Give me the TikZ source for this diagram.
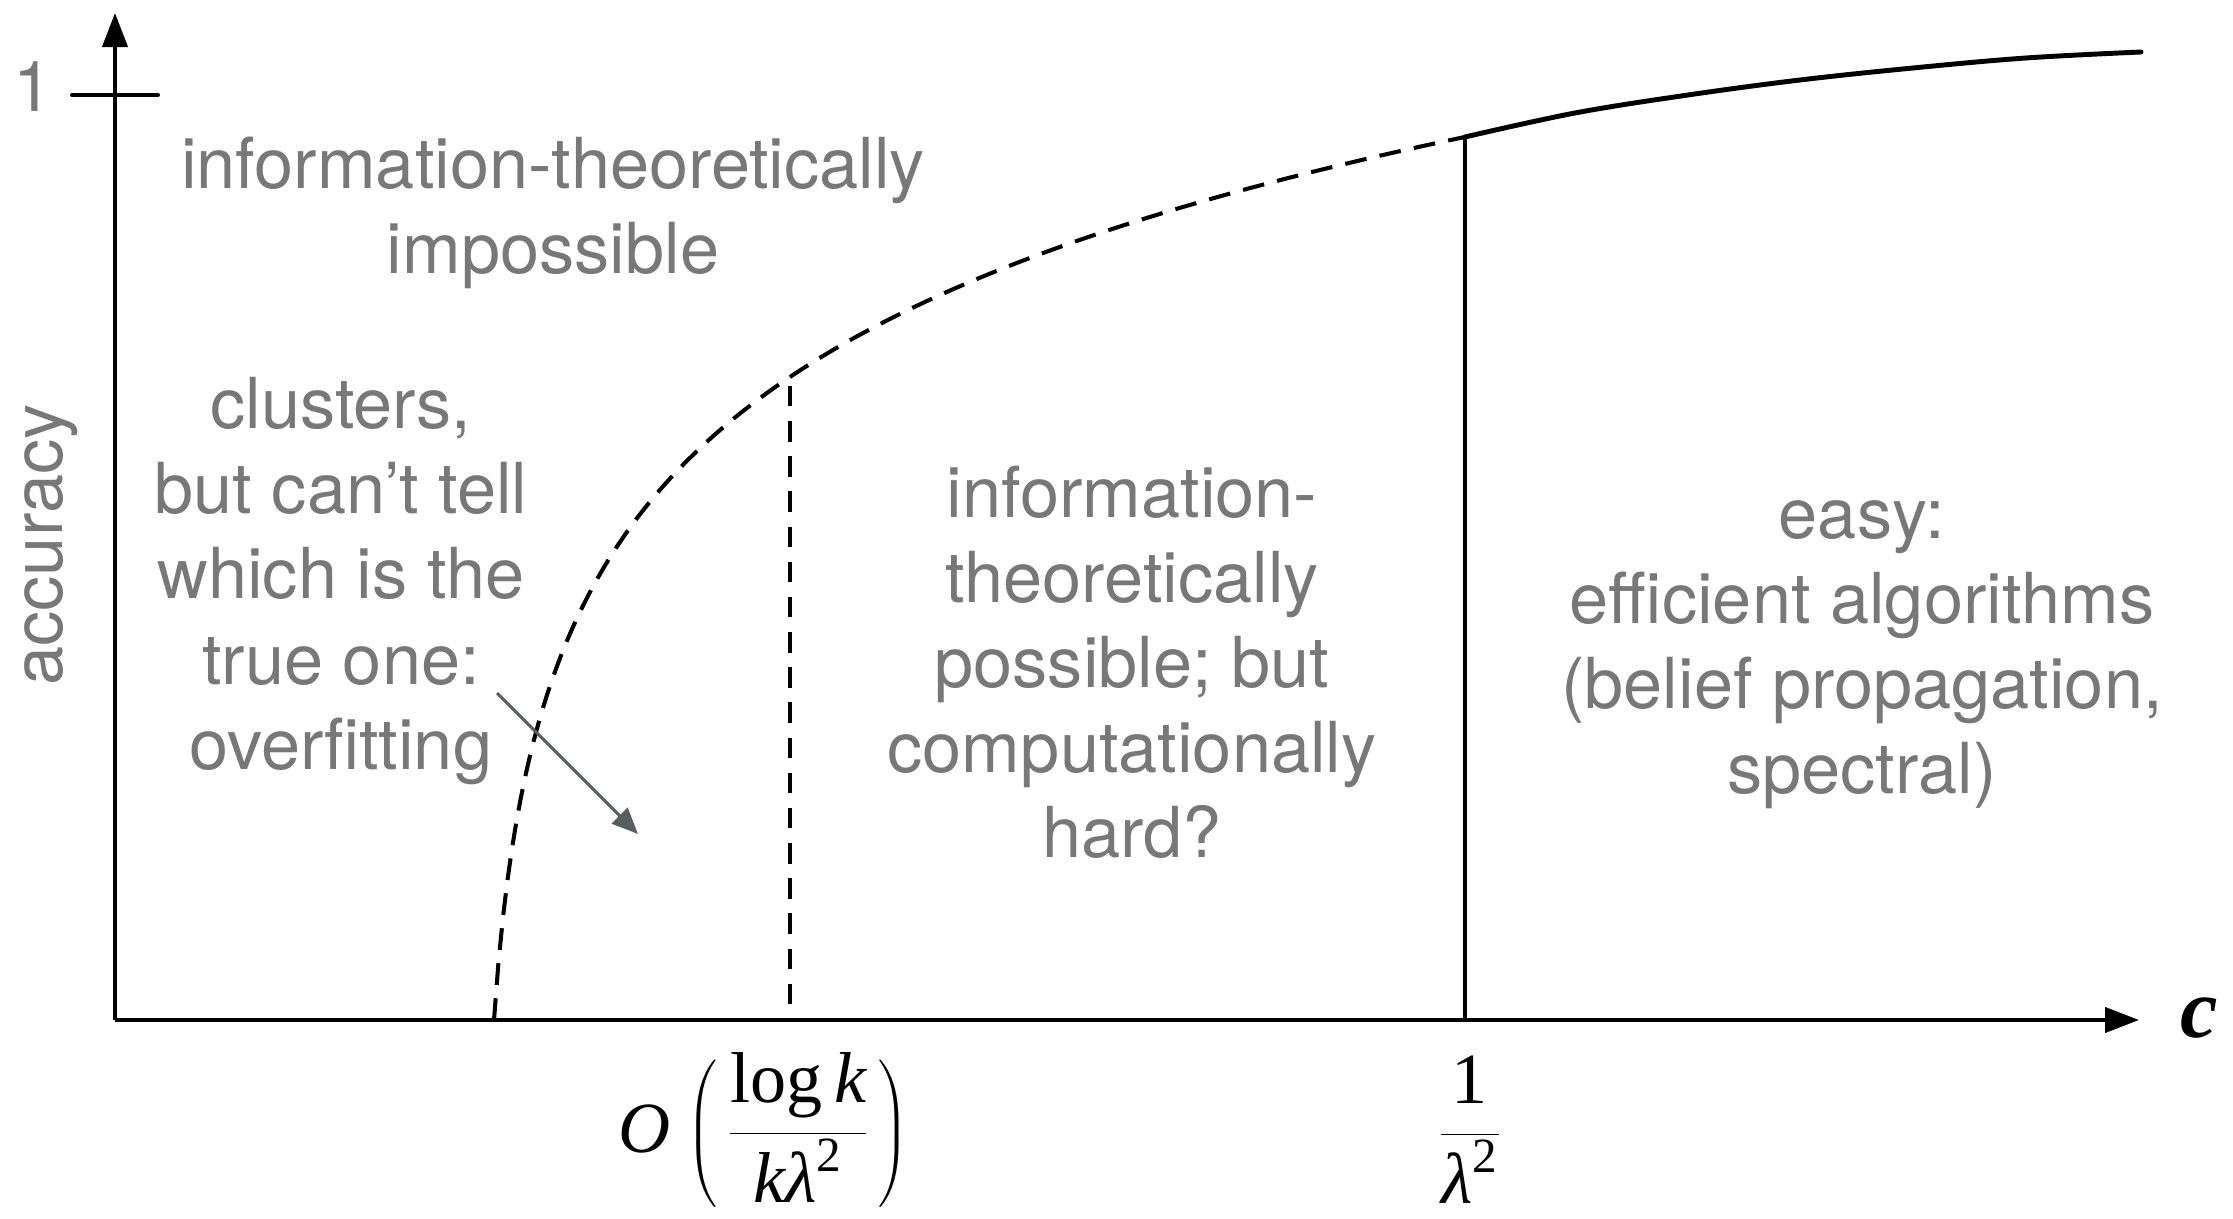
\documentclass[tikz,border=0pt]{standalone}
\usepackage{fontspec}
\usetikzlibrary{arrows.meta}
\newfontfamily\hvfont{TeX Gyre Heros}
\newfontfamily\tmfont{Liberation Serif}
\newcommand{\tmsup}[1]{\mbox{\tmfont\fontsize{14}{14}\selectfont #1}}
\definecolor{txtgray}{RGB}{120,120,120}
\definecolor{arrgray}{RGB}{88,94,93}
\tikzset{
  axisline/.style={line width=1.15pt, -{Triangle[length=0.34cm,width=0.25cm]}},
  graytext/.style={text=txtgray, font=\hvfont\fontsize{20}{24.2}\selectfont, align=center, inner sep=0pt},
  mathlabel/.style={font=\tmfont\fontsize{20.5}{24}\selectfont, inner sep=0pt, anchor=base},
  dashcurve/.style={line width=1.15pt, dash pattern=on 6.2pt off 3.8pt},
  hintarrow/.style={draw=arrgray, line width=0.9pt, -{Triangle[length=0.26cm,width=0.22cm]}}
}
\begin{document}
\begin{tikzpicture}[x=0.01cm,y=-0.01cm]
\useasboundingbox (0,0) rectangle (2233,1219);
% axes
\coordinate (orig) at (115,1020);
\coordinate (ytip) at (115,13);
\coordinate (xtip) at (2139,1020);
\draw[axisline] (orig) -- (ytip);
\draw[axisline] (orig) -- (xtip);
% tick at 1
\coordinate (tickL) at (72,95);
\coordinate (tickR) at (158,95);
\draw[line width=1.15pt, line cap=round] (tickL) -- (tickR);
\node[text=txtgray, font=\hvfont\fontsize{20}{24}\selectfont, inner sep=0pt, anchor=base] (one) at (33,112) {1};
% axis labels
\node[text=txtgray, font=\hvfont\fontsize{20}{24}\selectfont, inner sep=0pt, anchor=base, rotate=90] (acc) at (62,545) {accuracy};
\node[font=\tmfont\fontsize{24}{26}\selectfont, inner sep=0pt, anchor=base] (cl) at (2199,1037) {\itshape\bfseries c};
% curve
\coordinate (cstart) at (494,1020);
\coordinate (cmid) at (1465,137);
\coordinate (cend) at (2141,52);
\draw[dashcurve] plot[domain=0:971, samples=220] ({494+\x},{1020-207.6*ln(1+\x/14)});
\draw[line width=1.4pt, line cap=round] plot[smooth, tension=0.6] coordinates {(1465,137) (1575,113) (1688,95) (1800,80) (1913,68) (2026,58) (2141,52)};
% verticals
\coordinate (dtop) at (790,386);
\coordinate (dbot) at (790,1020);
\draw[line width=1.1pt, dash pattern=on 5.8pt off 4.2pt] (dtop) -- (dbot);
\coordinate (sbot) at (1465,1020);
\draw[line width=0.95pt] (cmid) -- (sbot);
% x labels
\node[mathlabel] (lab1) at (764,1152) {$\displaystyle \mbox{\itshape O}\mkern1mu\left(\rule[-18pt]{0pt}{41pt}\mkern2mu\frac{\mbox{log\,\itshape k}}{\mbox{\itshape kλ}^{\tmsup{2}}}\mkern2mu\right)$};
\node[mathlabel] (lab2) at (1470,1153) {$\displaystyle \frac{\mbox{1}}{\mbox{\itshape λ}^{\tmsup{2}}}$};
% region texts
\node[graytext] (imp) at (553,213) {information-theoretically\\impossible};
\node[graytext] (clu) at (341,581) {clusters,\\but can’t tell\\which is the\\true one:\\overfitting};
\node[graytext] (hard) at (1132,662) {information-\\theoretically\\possible; but\\computationally\\hard?};
\node[graytext] (easy) at (1862,655) {easy:\\efficient algorithms\\(belief propagation,\\spectral)};
% hint arrow
\coordinate (aS) at (497,693);
\coordinate (aE) at (638,834);
\draw[hintarrow] (aS) -- (aE);
\end{tikzpicture}
\end{document}
